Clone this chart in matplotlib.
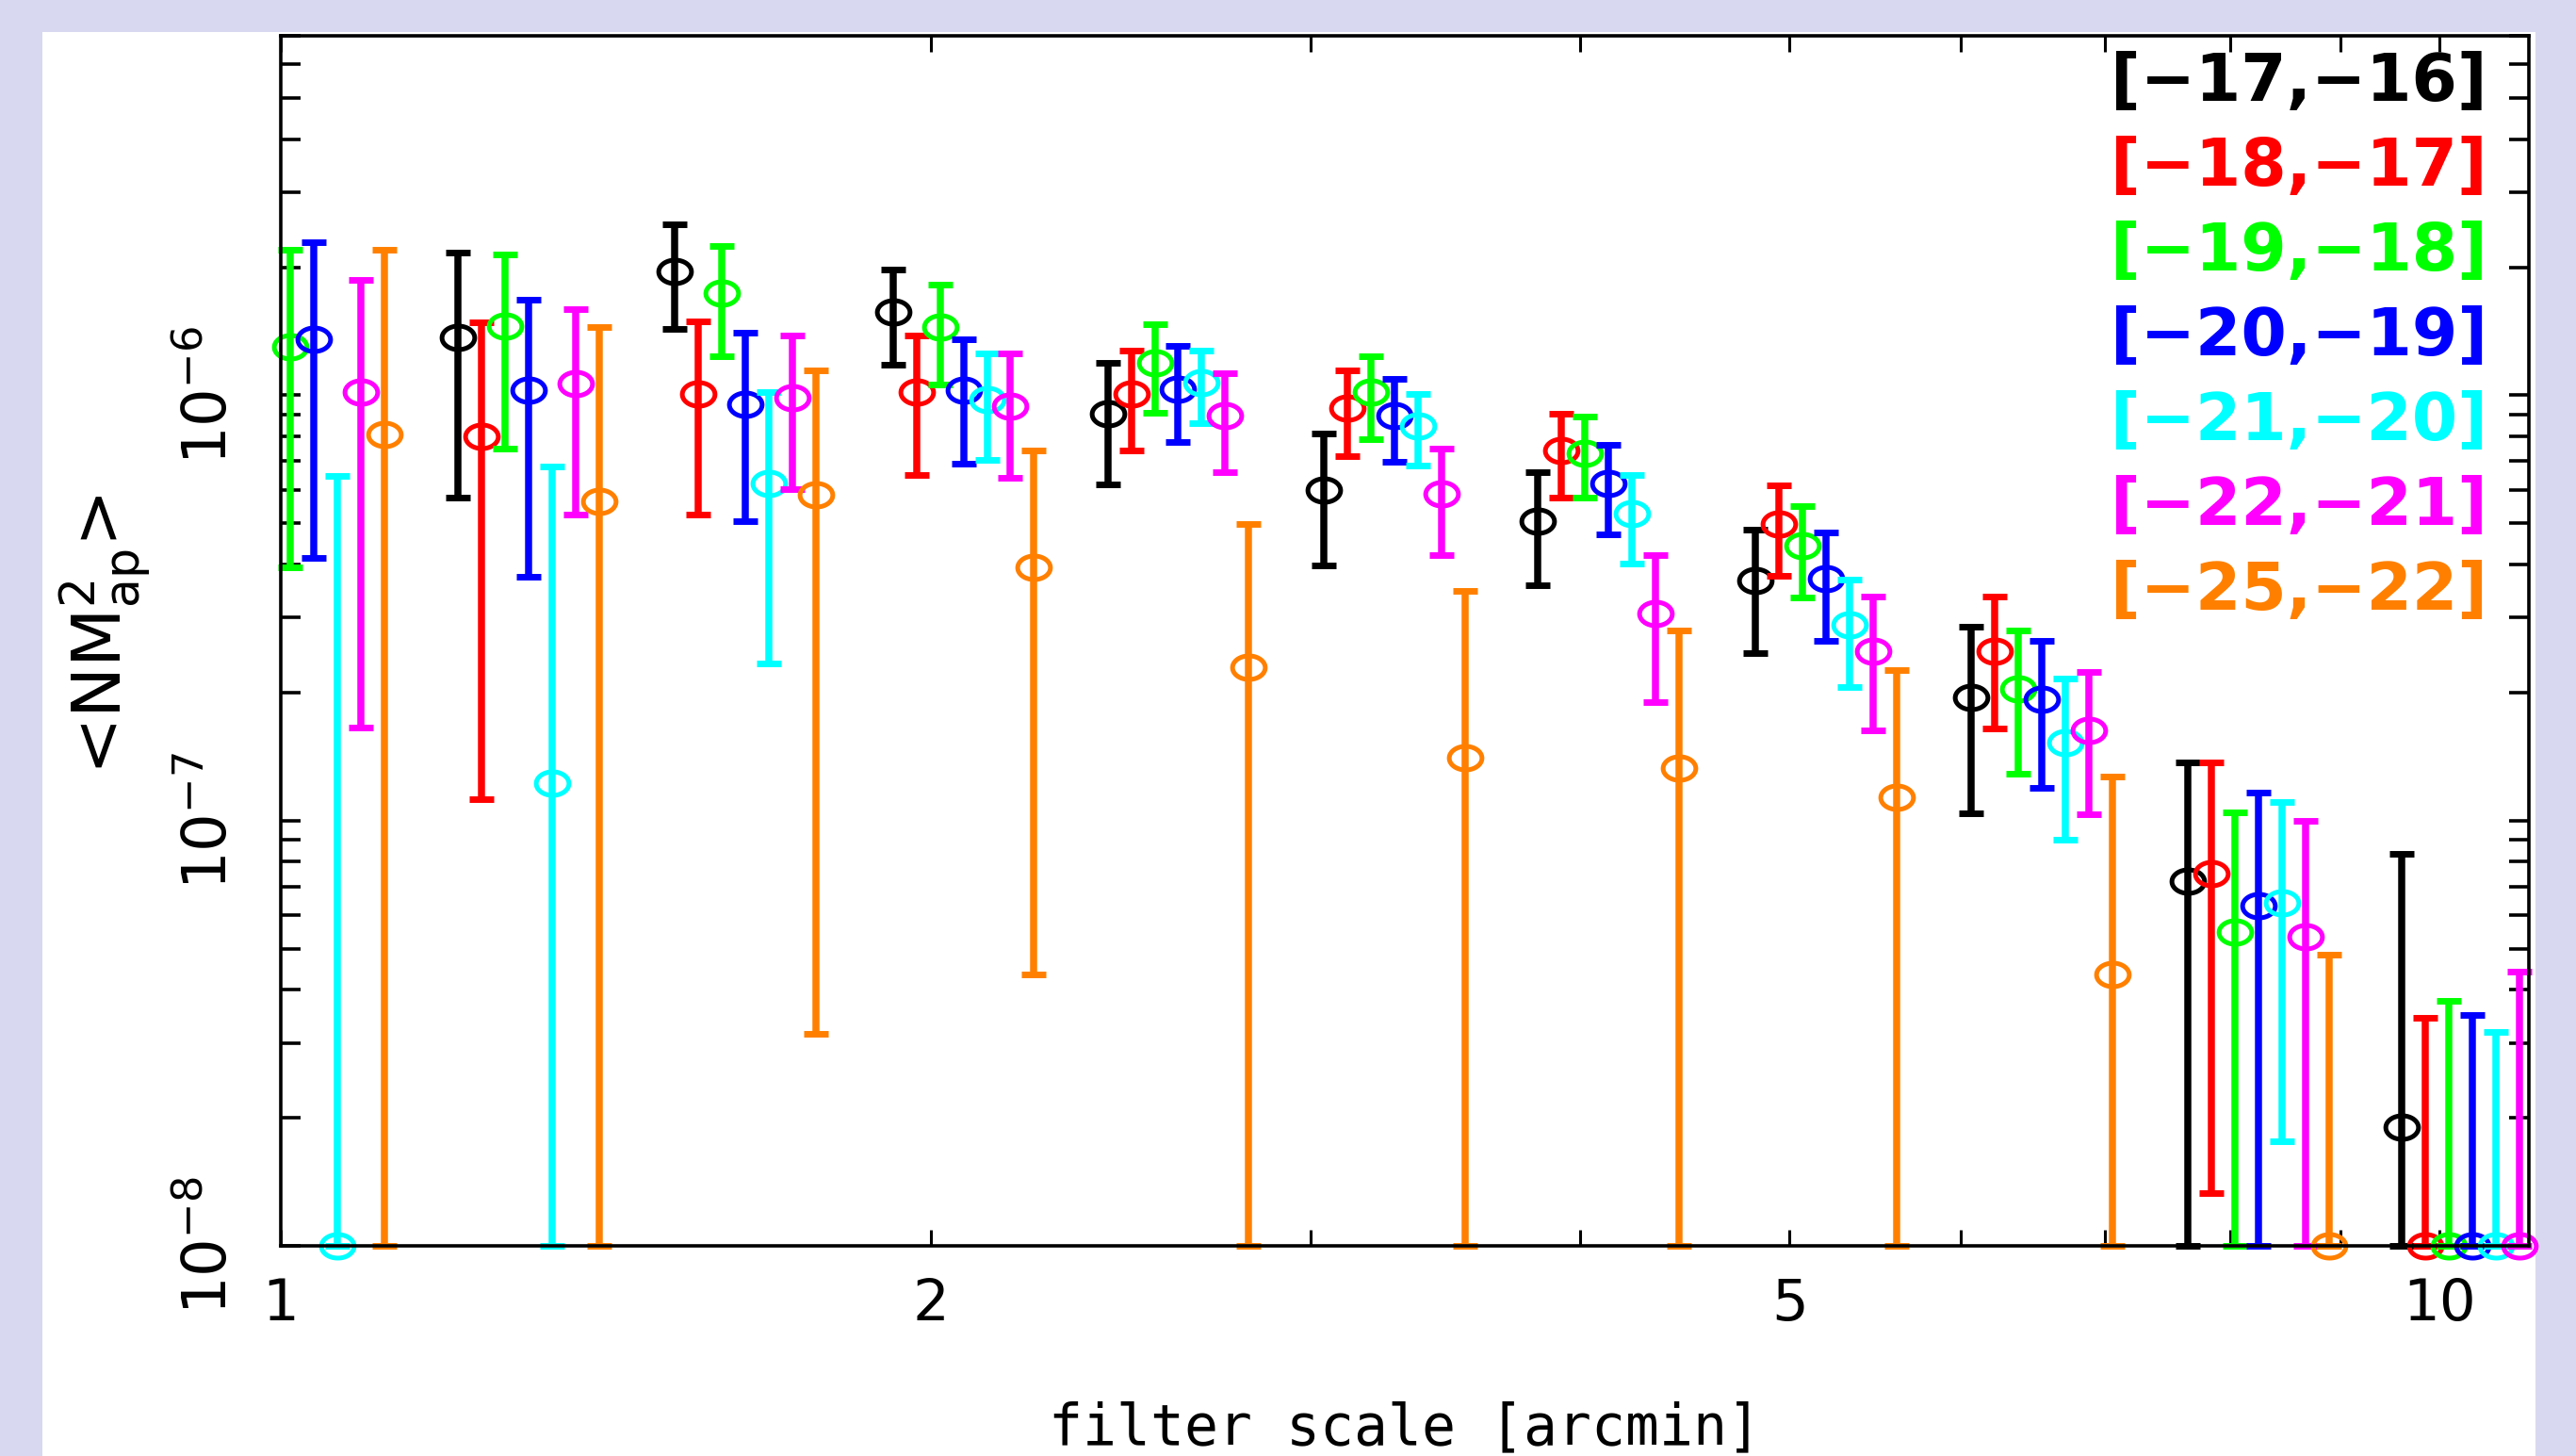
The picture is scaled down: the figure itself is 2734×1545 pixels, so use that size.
import numpy as np
import matplotlib
matplotlib.use("Agg")
import matplotlib.pyplot as plt
from matplotlib.path import Path
from matplotlib.patches import Rectangle
from matplotlib.ticker import FixedLocator, FixedFormatter, LogLocator, NullFormatter

nan = np.nan

# filter scales [arcmin] (one group per scale)
theta = [1.01, 1.27, 1.60, 2.02, 2.54, 3.20, 4.02, 5.07, 6.38, 8.04, 10.10]

mag_bins = ["[\u221217,\u221216]", "[\u221218,\u221217]", "[\u221219,\u221218]",
            "[\u221220,\u221219]", "[\u221221,\u221220]", "[\u221222,\u221221]",
            "[\u221225,\u221222]"]
colors = ["#000000", "#ff0000", "#00ff00", "#0000ff", "#00ffff", "#ff00ff", "#ff8000"]

# <NM_ap^2> value, upper and lower end of error bar (1e-8 = plot floor)
nm_17 = [nan, 1.365e-6, 1.952e-6, 1.567e-6, 9.03e-7, 6.0e-7, 5.07e-7, 3.66e-7, 1.952e-7, 7.21e-8, 1.903e-8]
hi_17 = [nan, 2.161e-6, 2.52e-6, 1.972e-6, 1.19e-6, 8.11e-7, 6.61e-7, 4.84e-7, 2.862e-7, 1.372e-7, 8.36e-8]
lo_17 = [nan, 5.76e-7, 1.429e-6, 1.178e-6, 6.16e-7, 3.99e-7, 3.58e-7, 2.48e-7, 1.042e-7, 1e-8, 1e-8]

nm_18 = [nan, 7.99e-7, 1.005e-6, 1.016e-6, 1.005e-6, 9.31e-7, 7.40e-7, 4.99e-7, 2.506e-7, 7.51e-8, 1e-8]
hi_18 = [nan, 1.482e-6, 1.489e-6, 1.379e-6, 1.271e-6, 1.142e-6, 9.03e-7, 6.13e-7, 3.37e-7, 1.372e-7, 3.44e-8]
lo_18 = [nan, 1.125e-7, 5.25e-7, 6.51e-7, 7.40e-7, 7.18e-7, 5.76e-7, 3.77e-7, 1.65e-7, 1.331e-8, 1e-8]

nm_19 = [1.297e-6, 1.452e-6, 1.736e-6, 1.444e-6, 1.19e-6, 1.016e-6, 7.32e-7, 4.44e-7, 2.044e-7, 5.47e-8, 1e-8]
hi_19 = [2.195e-6, 2.14e-6, 2.24e-6, 1.817e-6, 1.467e-6, 1.233e-6, 8.89e-7, 5.50e-7, 2.805e-7, 1.047e-7, 3.77e-8]
lo_19 = [3.93e-7, 7.51e-7, 1.233e-6, 1.058e-6, 9.08e-7, 7.87e-7, 5.76e-7, 3.35e-7, 1.291e-7, 1e-8, 1e-8]

nm_20 = [1.351e-6, 1.026e-6, 9.50e-7, 1.026e-6, 1.031e-6, 8.94e-7, 6.19e-7, 3.71e-7, 1.932e-7, 6.32e-8, 1e-8]
hi_20 = [2.287e-6, 1.675e-6, 1.40e-6, 1.351e-6, 1.304e-6, 1.091e-6, 7.63e-7, 4.75e-7, 2.65e-7, 1.166e-7, 3.49e-8]
lo_20 = [4.155e-7, 3.75e-7, 5.07e-7, 6.89e-7, 7.75e-7, 6.96e-7, 4.70e-7, 2.65e-7, 1.196e-7, 1e-8, 1e-8]

nm_21 = [1e-8, 1.227e-7, 6.19e-7, 9.75e-7, 1.069e-6, 8.49e-7, 5.28e-7, 2.89e-7, 1.528e-7, 6.41e-8, 1e-8]
hi_21 = [6.45e-7, 6.79e-7, 1.016e-6, 1.252e-6, 1.271e-6, 1.005e-6, 6.48e-7, 3.69e-7, 2.162e-7, 1.108e-7, 3.19e-8]
lo_21 = [1e-8, 1e-8, 2.346e-7, 7.03e-7, 8.58e-7, 6.82e-7, 4.03e-7, 2.064e-7, 9.03e-8, 1.762e-8, 1e-8]

nm_22 = [1.016e-6, 1.063e-6, 9.85e-7, 9.45e-7, 8.94e-7, 5.88e-7, 3.07e-7, 2.506e-7, 1.633e-7, 5.34e-8, 1e-8]
hi_22 = [1.865e-6, 1.591e-6, 1.379e-6, 1.252e-6, 1.125e-6, 7.51e-7, 4.22e-7, 3.37e-7, 2.24e-7, 1.0e-7, 4.42e-8]
lo_22 = [1.658e-7, 5.25e-7, 6.03e-7, 6.41e-7, 6.61e-7, 4.22e-7, 1.903e-7, 1.633e-7, 1.036e-7, 1e-8, 1e-8]

nm_25 = [8.07e-7, 5.64e-7, 5.85e-7, 3.93e-7, 2.298e-7, 1.408e-7, 1.331e-7, 1.136e-7, 4.35e-8, 1e-8, nan]
hi_25 = [2.195e-6, 1.444e-6, 1.142e-6, 7.40e-7, 4.97e-7, 3.46e-7, 2.805e-7, 2.263e-7, 1.271e-7, 4.84e-8, nan]
lo_25 = [1e-8, 1e-8, 3.155e-8, 4.35e-8, 1e-8, 1e-8, 1e-8, 1e-8, 1e-8, 1e-8, nan]

values = [nm_17, nm_18, nm_19, nm_20, nm_21, nm_22, nm_25]
uppers = [hi_17, hi_18, hi_19, hi_20, hi_21, hi_22, hi_25]
lowers = [lo_17, lo_18, lo_19, lo_20, lo_21, lo_22, lo_25]

# ---------------------------------------------------------------- plotting
fig = plt.figure(figsize=(13.67, 7.725), dpi=200, facecolor="#d8d8f0")
fig.patches.append(Rectangle((0.0165, 0.0), 0.9678, 0.978, transform=fig.transFigure,
                             facecolor="white", edgecolor="none", zorder=-10))
ax = fig.add_axes([0.109, 0.1443, 0.8727, 0.8311], zorder=5)
ax.set_facecolor("white")

# slightly flattened open circle, like the original plot
t = np.linspace(0, 2 * np.pi, 61)
ellipse = Path(np.column_stack([np.cos(t), 0.72 * np.sin(t)]), closed=True)

dodge = 1.0254   # horizontal offset between magnitude bins (green bin sits on theta)
x = np.array(theta)
for i, (val, hi, lo, col) in enumerate(zip(values, uppers, lowers, colors)):
    val, hi, lo = np.array(val), np.array(hi), np.array(lo)
    xs = x * dodge ** (i - 2)
    keep = (xs >= 1.0) & (xs <= 11.0)
    cont = ax.errorbar(xs[keep], val[keep], yerr=[val[keep] - lo[keep], hi[keep] - val[keep]],
                       fmt="none", ecolor=col, elinewidth=2.7, capsize=4.6, capthick=2.5)
    for art in cont.lines[1] + cont.lines[2]:
        art.set_clip_on(False)
    ax.plot(xs[keep], val[keep], ls="none", marker=ellipse, ms=12.5, mfc="none",
            mec=col, mew=1.8, clip_on=False)

ax.set_xscale("log")
ax.set_yscale("log")
ax.set_xlim(1.0, 11.0)
ax.set_ylim(1e-8, 7e-6)

ax.xaxis.set_major_locator(FixedLocator([1, 2, 5, 10]))
ax.xaxis.set_major_formatter(FixedFormatter(["1", "2", "5", "10"]))
ax.xaxis.set_minor_locator(FixedLocator([3, 4, 6, 7, 8, 9]))
ax.xaxis.set_minor_formatter(NullFormatter())

ax.yaxis.set_major_locator(FixedLocator([1e-8, 1e-7, 1e-6]))
ax.yaxis.set_major_formatter(FixedFormatter([r"$10^{-8}$", r"$10^{-7}$", r"$10^{-6}$"]))
ax.yaxis.set_minor_locator(LogLocator(base=10, subs=np.arange(2, 10), numticks=20))
ax.yaxis.set_minor_formatter(NullFormatter())

for side in ax.spines.values():
    side.set_linewidth(1.3)
ax.tick_params(axis="both", which="both", direction="in", top=True, right=True, color="black")
ax.tick_params(axis="x", which="both", length=6, width=1.1, pad=12, labelsize=22)
ax.tick_params(axis="y", which="both", length=7.5, width=1.3, pad=16, labelsize=23)
for lab in ax.get_yticklabels():
    lab.set_rotation(90)
    lab.set_va("center")

ax.set_xlabel("filter scale [arcmin]", fontsize=21.5, family="DejaVu Sans Mono", va="baseline")
ax.xaxis.set_label_coords(0.5, -0.1636)
ax.set_ylabel(r"<NM$^{2}_{\rm ap}$>", fontsize=26)
ax.yaxis.set_label_coords(-0.056, 0.505)

# legend: coloured magnitude bins
for i, (lab, col) in enumerate(zip(mag_bins, colors)):
    ax.text(0.9816, 0.9618 - 0.0701 * i, lab, transform=ax.transAxes, ha="right", va="center",
            color=col, fontsize=25, fontweight="bold")

fig.savefig("out.png", dpi=200, facecolor=fig.get_facecolor())
